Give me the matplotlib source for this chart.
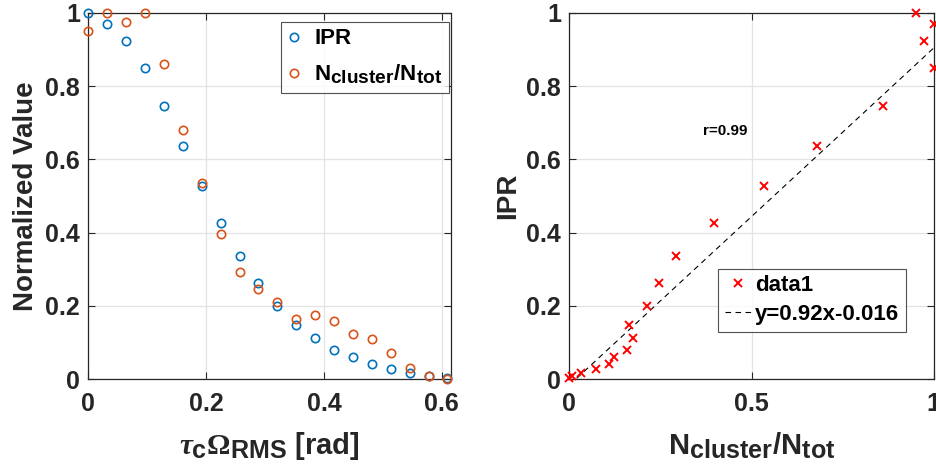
import numpy as np
import matplotlib
matplotlib.use("Agg")
import matplotlib.pyplot as plt
from matplotlib.ticker import FuncFormatter
try:
    import matplotlib._mathtext as _mt
    _mt.SHRINK_FACTOR = 0.86
except Exception:
    pass

# ---- data ----
tau_omega = [0.0, 0.0321, 0.0642, 0.0963, 0.1284, 0.1605, 0.1926, 0.2247, 0.2568, 0.2889,
             0.3210, 0.3531, 0.3852, 0.4173, 0.4494, 0.4815, 0.5136, 0.5457, 0.5778, 0.6099]
ipr = [1.000, 0.969, 0.923, 0.849, 0.745, 0.636, 0.527, 0.427, 0.335, 0.263,
       0.199, 0.147, 0.112, 0.080, 0.060, 0.043, 0.029, 0.018, 0.010, 0.003]
n_cluster = [0.951, 1.000, 0.974, 1.000, 0.861, 0.679, 0.535, 0.396, 0.293, 0.245,
             0.212, 0.164, 0.175, 0.158, 0.123, 0.109, 0.073, 0.032, 0.008, 0.000]
fit_slope = 0.92
fit_intercept = -0.016
r_value = 0.99

left_xticks = [0, 0.2, 0.4, 0.6]
right_xticks = [0, 0.5, 1]
yticks = [0, 0.2, 0.4, 0.6, 0.8, 1]

# ---- style ----
plt.rcParams['font.family'] = ['Liberation Sans', 'DejaVu Sans']
plt.rcParams['font.weight'] = 'bold'
plt.rcParams['mathtext.fontset'] = 'custom'
plt.rcParams['mathtext.rm'] = 'Liberation Serif'
plt.rcParams['mathtext.it'] = 'Liberation Serif:italic'
plt.rcParams['mathtext.bf'] = 'Liberation Sans:bold'

dark = '#262626'
blue = '#0072BD'
orange = '#D95319'
gridc = '#e3e3e3'

fig = plt.figure(figsize=(9.36, 4.69), dpi=100)
W, H = 936, 469
ax1 = fig.add_axes([88.3 / W, 1 - 379.3 / H, 362.2 / W, 366.6 / H])
ax2 = fig.add_axes([569.3 / W, 1 - 379.3 / H, 364.5 / W, 366.6 / H])

fmt = FuncFormatter(lambda v, p: ('%g' % round(v, 3)))

for ax in (ax1, ax2):
    ax.set_axisbelow(True)
    ax.grid(True, color=gridc, linewidth=0.9)
    for s in ax.spines.values():
        s.set_color(dark)
        s.set_linewidth(0.9)
        s.set_zorder(5)
    ax.tick_params(direction='in', length=5, width=0.8, colors=dark,
                   top=True, right=True, labelsize=18)
    ax.tick_params(axis='y', pad=6)
    ax.tick_params(axis='x', pad=9)
    ax.set_ylim(0, 1)
    ax.set_yticks(yticks)
    ax.yaxis.set_major_formatter(fmt)
    ax.xaxis.set_major_formatter(fmt)

# ---- left panel ----
ax1.plot(tau_omega, ipr, linestyle='none', marker='o', markersize=6,
         markerfacecolor='none', markeredgecolor=blue, markeredgewidth=1.2,
         label='IPR', clip_on=False, zorder=6)
ax1.plot(tau_omega, n_cluster, linestyle='none', marker='o', markersize=6,
         markerfacecolor='none', markeredgecolor=orange, markeredgewidth=1.2,
         label=r'$\mathbf{N_{cluster}/N_{tot}}$', clip_on=False, zorder=6)
ax1.set_xlim(0, 0.615)
ax1.set_xticks(left_xticks)
ax1.set_xlabel(r'$\tau_{\mathbf{c}}\Omega_{\mathbf{RMS}}$ [rad]', fontsize=21,
               fontweight='bold', color=dark)
ax1.xaxis.set_label_coords(0.5, -0.139)
ax1.set_ylabel('Normalized Value', fontsize=20, fontweight='bold', color=dark)
ax1.yaxis.set_label_coords(-0.137, 0.5)
leg1 = ax1.legend(loc='center', bbox_to_anchor=(0.764, 0.878), fontsize=16,
                  frameon=True, fancybox=False, edgecolor=dark, handlelength=0.6,
                  handletextpad=0.6, borderpad=0.3, labelspacing=0.6)
leg1.get_frame().set_linewidth(0.8)
for t in leg1.get_texts():
    t.set_color('black')

# ---- right panel ----
ax2.plot(n_cluster, ipr, linestyle='none', marker='x', markersize=5.5,
         markeredgewidth=1.4, color='red', label='data1', clip_on=False, zorder=6)
xfit = np.array([min(n_cluster), max(n_cluster)])
ax2.plot(xfit, fit_slope * xfit + fit_intercept, color='black', linestyle=(0, (5, 4)),
         linewidth=0.8, label='y=%.2fx%+.3f' % (fit_slope, fit_intercept), zorder=4)
ax2.set_xlim(0, 1)
ax2.set_xticks(right_xticks)
ax2.text(0.366, 0.677, 'r=%.2f' % r_value, fontsize=11, fontweight='bold',
         color='black', ha='left', va='center')
ax2.set_xlabel(r'$\mathbf{N_{cluster}/N_{tot}}$', fontsize=21, color=dark)
ax2.xaxis.set_label_coords(0.5, -0.139)
ax2.set_ylabel('IPR', fontsize=20, fontweight='bold', color=dark)
ax2.yaxis.set_label_coords(-0.133, 0.5)
leg2 = ax2.legend(loc='center', bbox_to_anchor=(0.666, 0.216), fontsize=16,
                  frameon=True, fancybox=False, edgecolor=dark, handlelength=1.2,
                  handletextpad=0.15, borderpad=0.3, labelspacing=0.35)
leg2.get_frame().set_linewidth(0.8)
for t in leg2.get_texts():
    t.set_color('black')

fig.savefig('out.png', dpi=100)
